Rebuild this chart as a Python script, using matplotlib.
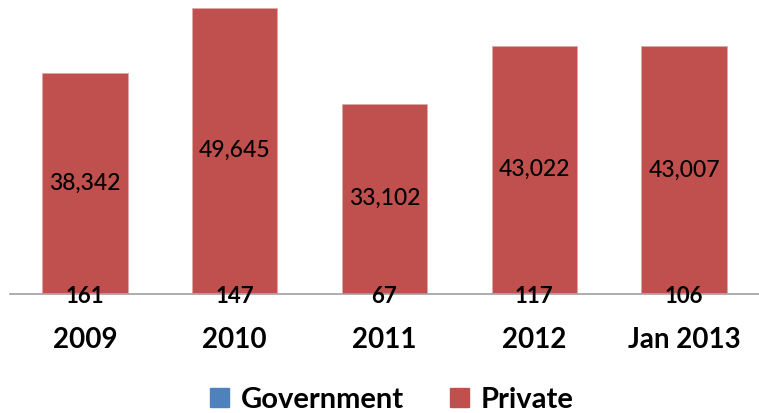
import matplotlib
matplotlib.use("Agg")
import matplotlib.pyplot as plt
from matplotlib.patches import Patch
import numpy as np

# data
years = ["2009", "2010", "2011", "2012", "Jan 2013"]
government = [161, 147, 67, 117, 106]
private = [38342, 49645, 33102, 43022, 43007]

gov_color = "#4F81BD"
priv_color = "#C0504D"

plt.rcParams['font.family'] = ['Lato', 'DejaVu Sans']

fig = plt.figure(figsize=(7.59, 4.13), dpi=100)
ax = fig.add_axes([10 / 759, 1 - 294 / 413, 749 / 759, 294 / 413])

x = np.arange(len(years))
w = 0.57
ax.bar(x, government, w, color=gov_color)
ax.bar(x, private, w, bottom=government, color=priv_color,
       edgecolor="#E0A8A6", linewidth=0.6)

for i in range(len(years)):
    ax.text(x[i], government[i] + private[i] / 2, f"{private[i]:,}",
            ha="center", va="center", fontsize=16.5, fontweight="medium",
            color="black")
    ax.text(x[i], -450, f"{government[i]:,}", ha="center", va="center",
            fontsize=16, fontweight="bold", color="black")

ax.set_xlim(-0.5, len(years) - 0.5)
ax.set_ylim(0, 51190)
ax.set_xticks(x)
ax.set_xticklabels(years, fontsize=20, fontweight="bold")
ax.tick_params(axis="x", length=0, pad=24)
ax.set_yticks([])
for s in ["top", "right", "left"]:
    ax.spines[s].set_visible(False)
ax.spines["bottom"].set_color("#A0A0A0")
ax.spines["bottom"].set_linewidth(1.2)

handles = [Patch(color=gov_color, label="Government"),
           Patch(color=priv_color, label="Private")]
fig.legend(handles=handles, loc="center", bbox_to_anchor=(392 / 759, 1 - 400 / 413),
           ncol=2, frameon=False, prop={"weight": "bold", "size": 21},
           handlelength=0.65, handleheight=0.65, handletextpad=0.4,
           columnspacing=1.6)

fig.savefig("out.png", dpi=100)
